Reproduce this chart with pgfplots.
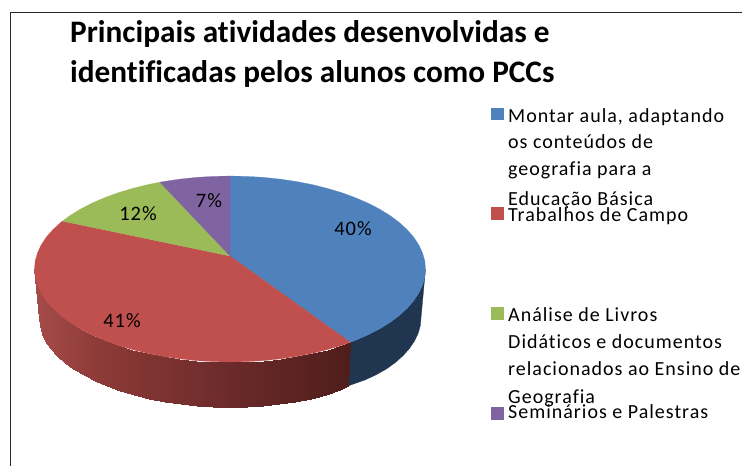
\documentclass[border=0pt]{standalone}
\usepackage{pgfplots}
\pgfplotsset{compat=1.18}
\usepackage{fontspec}
\setmainfont{Carlito}
\newfontfamily\tif[Ligatures=NoCommon]{Carlito}
\newfontfamily\lgf[LetterSpace=5,Ligatures=NoCommon]{Carlito}
\newfontfamily\pcf[LetterSpace=5]{Carlito}
\definecolor{cblue}{HTML}{4F81BD}
\definecolor{cred}{HTML}{C0504D}
\definecolor{cgreen}{HTML}{9BBB59}
\definecolor{cpurple}{HTML}{8064A2}
\definecolor{cblueside}{HTML}{1F3550}
\begin{document}
\begin{tikzpicture}
\clip (0,0) rectangle (742pt,466pt);
\begin{axis}[
  at={(0,0)}, anchor=south west,
  scale only axis, width=742pt, height=466pt,
  xmin=0, xmax=742, ymin=0, ymax=466, y dir=reverse,
  axis lines=none, clip=false,
  colormap={redside}{rgb255(0pt)=(166,76,73); rgb255(66pt)=(140,58,55); rgb255(196pt)=(107,42,42); rgb255(316pt)=(79,29,26)},
  point meta min=34.5, point meta max=350,
]
% frame
\addplot[no marks, draw=black!85, line width=1pt, forget plot] coordinates {(10,466) (10,12.5) (742,12.5)};
% side, blue
\addplot[no marks, fill=cblueside, draw=cblueside, line width=0.3pt, forget plot] coordinates {
(425.5,269) (424.8,277.1) (422.5,285.1) (418.8,293.1) (413.7,300.8) (407.2,308.3) (399.3,315.5) (390.2,322.3) (379.8,328.8) (368.2,334.8) (355.7,340.2) (350.4,342.3)
(347.6,386.1) (352.8,384.2) (365.1,379.9) (376.3,374.7) (386.5,368.9) (395.4,362.5) (403.1,355.6) (409.5,348.4) (414.5,341.0) (418.1,333.5) (420.3,325.8) (421,318)
} -- cycle;
% side, red
\addplot[patch, patch type=rectangle, shader=interp, point meta=x, forget plot] coordinates {
(350.4,342.3) (347.6,386.1) (339.6,389.9) (342.1,345.2)
(342.1,345.2) (339.6,389.9) (325.5,395.1) (327.8,349.5)
(327.8,349.5) (325.5,395.1) (310.7,398.7) (312.6,353.3)
(312.6,353.3) (310.7,398.7) (295.3,401.6) (296.9,356.4)
(296.9,356.4) (295.3,401.6) (279.4,404.0) (280.6,358.8)
(280.6,358.8) (279.4,404.0) (263.2,405.7) (263.9,360.6)
(263.9,360.6) (263.2,405.7) (246.7,406.7) (247.0,361.6)
(247.0,361.6) (246.7,406.7) (230,407) (230,362)
(230,362) (230,407) (213.3,406.7) (213.0,361.6)
(213.0,361.6) (213.3,406.7) (196.8,405.7) (196.1,360.6)
(196.1,360.6) (196.8,405.7) (180.6,404.0) (179.4,358.8)
(179.4,358.8) (180.6,404.0) (164.7,401.6) (163.1,356.4)
(163.1,356.4) (164.7,401.6) (149.3,398.7) (147.4,353.3)
(147.4,353.3) (149.3,398.7) (134.5,395.1) (132.2,349.5)
(132.2,349.5) (134.5,395.1) (120.4,390.9) (117.9,345.2)
(117.9,345.2) (120.4,390.9) (107.2,386.2) (104.3,340.2)
(104.3,340.2) (107.2,386.2) (94.9,380.9) (91.8,334.8)
(91.8,334.8) (94.9,380.9) (83.7,375.2) (80.2,328.8)
(80.2,328.8) (83.7,375.2) (73.5,368.9) (69.8,322.3)
(69.8,322.3) (73.5,368.9) (64.6,362.5) (60.7,315.5)
(60.7,315.5) (64.6,362.5) (56.9,355.6) (52.8,308.3)
(52.8,308.3) (56.9,355.6) (50.5,348.4) (46.3,300.8)
(46.3,300.8) (50.5,348.4) (45.5,341.0) (41.2,293.1)
(41.2,293.1) (45.5,341.0) (41.9,333.5) (37.5,285.1)
(37.5,285.1) (41.9,333.5) (39.7,325.8) (35.2,277.1)
(35.2,277.1) (39.7,325.8) (39,318) (34.5,269)
};
% top faces
\addplot[no marks, fill=cblue, draw=cblue, line width=0.2pt, forget plot] coordinates {
(230,256) (230,176) (247.0,176.4) (263.9,177.4) (280.6,179.2) (296.9,181.6) (312.6,184.7) (327.8,188.5) (342.1,192.8) (355.7,197.8) (368.2,203.2) (379.8,209.2) (390.2,215.7) (399.3,222.5) (407.2,229.7) (413.7,237.2) (418.8,244.9) (422.5,252.9) (424.8,260.9) (425.5,269) (424.8,277.1) (422.5,285.1) (418.8,293.1) (413.7,300.8) (407.2,308.3) (399.3,315.5) (390.2,322.3) (379.8,328.8) (368.2,334.8) (355.7,340.2) (350.4,342.3)
} -- cycle;
\addplot[no marks, fill=cred, draw=cred, line width=0.2pt, forget plot] coordinates {
(230,256) (350.4,342.3) (342.1,345.2) (327.8,349.5) (312.6,353.3) (296.9,356.4) (280.6,358.8) (263.9,360.6) (247.0,361.6) (230,362) (213.0,361.6) (196.1,360.6) (179.4,358.8) (163.1,356.4) (147.4,353.3) (132.2,349.5) (117.9,345.2) (104.3,340.2) (91.8,334.8) (80.2,328.8) (69.8,322.3) (60.7,315.5) (52.8,308.3) (46.3,300.8) (41.2,293.1) (37.5,285.1) (35.2,277.1) (34.5,269) (35.2,260.9) (37.5,252.9) (41.2,244.9) (46.3,237.2) (52.8,229.7) (60.7,222.5) (62.4,221.1)
} -- cycle;
\addplot[no marks, fill=cgreen, draw=cgreen, line width=0.2pt, forget plot] coordinates {
(230,256) (62.4,221.1) (69.8,215.7) (80.2,209.2) (91.8,203.2) (104.3,197.8) (117.9,192.8) (132.2,188.5) (147.4,184.7) (159.9,182.2)
} -- cycle;
\addplot[no marks, fill=cpurple, draw=cpurple, line width=0.2pt, forget plot] coordinates {
(230,256) (159.9,182.2) (163.1,181.6) (179.4,179.2) (196.1,177.4) (213.0,176.4) (230,176)
} -- cycle;
% legend keys
\addplot[only marks, mark=square*, mark size=5.8pt, color=cblue, forget plot] coordinates {(497,113.5)};
\addplot[only marks, mark=square*, mark size=5.8pt, color=cred, forget plot] coordinates {(497,213)};
\addplot[only marks, mark=square*, mark size=5.8pt, color=cgreen, forget plot] coordinates {(497,313)};
\addplot[only marks, mark=square*, mark size=5.8pt, color=cpurple, forget plot] coordinates {(497,413)};
% texts
\node[anchor=base west, inner sep=0pt, font=\tif\fontsize{31.3}{33}\selectfont\bfseries] at (axis cs:70,42) {Principais atividades desenvolvidas e};
\node[anchor=base west, inner sep=0pt, font=\tif\fontsize{31.3}{33}\selectfont\bfseries] at (axis cs:70,82) {identificadas pelos alunos como PCCs};
\node[anchor=center, inner sep=0pt, font=\pcf\fontsize{20.5}{22}\selectfont] at (axis cs:353,229) {40\%};
\node[anchor=center, inner sep=0pt, font=\pcf\fontsize{20.5}{22}\selectfont] at (axis cs:122,321) {41\%};
\node[anchor=center, inner sep=0pt, font=\pcf\fontsize{20.5}{22}\selectfont] at (axis cs:138,214) {12\%};
\node[anchor=center, inner sep=0pt, font=\pcf\fontsize{20.5}{22}\selectfont] at (axis cs:209,201) {7\%};
\node[anchor=base west, inner sep=0pt, font=\lgf\fontsize{20}{22}\selectfont] at (axis cs:508,122) {Montar aula, adaptando};
\node[anchor=base west, inner sep=0pt, font=\lgf\fontsize{20}{22}\selectfont] at (axis cs:508,148) {os conteúdos de};
\node[anchor=base west, inner sep=0pt, font=\lgf\fontsize{20}{22}\selectfont] at (axis cs:508,175) {geografia para a};
\node[anchor=base west, inner sep=0pt, font=\lgf\fontsize{20}{22}\selectfont] at (axis cs:508,205) {Educação Básica};
\node[anchor=base west, inner sep=0pt, font=\lgf\fontsize{20}{22}\selectfont] at (axis cs:508,221) {Trabalhos de Campo};
\node[anchor=base west, inner sep=0pt, font=\lgf\fontsize{20}{22}\selectfont] at (axis cs:508,321) {Análise de Livros};
\node[anchor=base west, inner sep=0pt, font=\lgf\fontsize{20}{22}\selectfont] at (axis cs:508,348) {Didáticos e documentos};
\node[anchor=base west, inner sep=0pt, font=\lgf\fontsize{20}{22}\selectfont] at (axis cs:508,375) {relacionados ao  Ensino de};
\node[anchor=base west, inner sep=0pt, font=\lgf\fontsize{20}{22}\selectfont] at (axis cs:508,403) {Geografia};
\node[anchor=base west, inner sep=0pt, font=\lgf\fontsize{20}{22}\selectfont] at (axis cs:508,418) {Seminários e Palestras};
\end{axis}
\end{tikzpicture}
\end{document}
